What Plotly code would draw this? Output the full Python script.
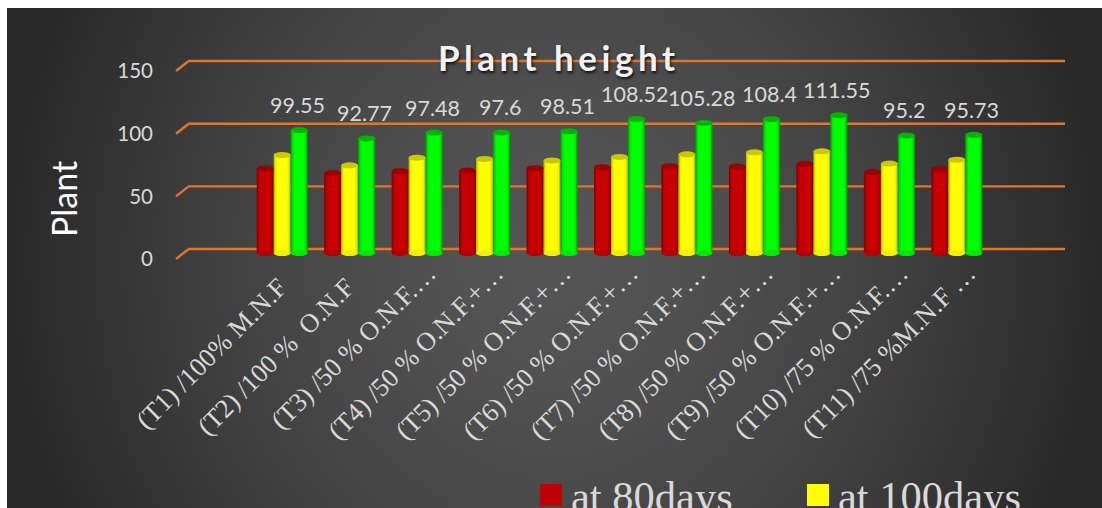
import zlib, struct, base64
import numpy as np
import plotly.graph_objects as go

NB = "\u00a0"
categories = ["(T1) /100% M.N.F" + NB * 3, "(T2) /100 %  O.N.F" + NB * 3, "(T3) /50 % O.N.F.…", "(T4) /50 % O.N.F.+…",
              "(T5) /50 % O.N.F.+…", "(T6) /50 % O.N.F.+…", "(T7) /50 % O.N.F.+…", "(T8) /50 % O.N.F.+…",
              "(T9) /50 % O.N.F.+…", "(T10) /75 % O.N.F.…", "(T11) /75 %M.N.F …"]
at_80 = [68.5, 64.7, 66.3, 66.8, 68.7, 69.5, 70.3, 70.0, 72.2, 65.5, 68.2]
at_100 = [79.4, 71.0, 77.2, 76.2, 75.0, 77.8, 79.9, 81.5, 82.3, 72.4, 75.6]
at_120 = [99.55, 92.77, 97.48, 97.6, 98.51, 108.52, 105.28, 108.4, 111.55, 95.2, 95.73]
y_ticks = [0, 50, 100, 150]

W, H = 1102, 508
PANEL = (7, 8, 1102, 508)
PLOT_L, PLOT_R = 181, 1058
Y0_PX, PX_PER_UNIT = 254, 1.253
BAR_Y0_PX, BAR_PX_PER_UNIT = 253, 1.235
Y_LO, Y_HI = -6, 165


def png_uri(w, h):
    xs = np.linspace(-1, 1, w)
    ys = np.linspace(-1, 1, h)
    xx, yy = np.meshgrid(xs, ys)
    r = np.sqrt(xx ** 2 + (yy * 0.42) ** 2)
    v = 0x55 - (0x55 - 0x29) * np.clip(r, 0, 1) ** 1.6
    g = v.astype(np.uint8)
    raw = b"".join(b"\x00" + g[i].tobytes() for i in range(h))

    def chunk(t, d):
        c = struct.pack(">I", len(d)) + t + d
        return c + struct.pack(">I", zlib.crc32(t + d) & 0xffffffff)

    data = b"\x89PNG\r\n\x1a\n" + chunk(b"IHDR", struct.pack(">IIBBBBB", w, h, 8, 0, 0, 0, 0)) \
        + chunk(b"IDAT", zlib.compress(raw)) + chunk(b"IEND", b"")
    return "data:image/png;base64," + base64.b64encode(data).decode()


def dom_x(a, b):
    return [a / W, b / W]


def dom_y(y0, ppu):
    top = y0 - Y_HI * ppu
    bottom = y0 - Y_LO * ppu
    return [1 - bottom / H, 1 - top / H]


series = [
    ("at 80days", at_80, -17 / 67.5, ["#8a0000", "#b40000", "#c80000"], "#9a0000"),
    ("at 100days", at_100, 0, ["#c0c000", "#f0f000", "#ffff00"], "#c8c800"),
    ("at 120days", at_120, 17 / 67.5, ["#00b000", "#00e800", "#00ff00"], "#00b400"),
]
xs = list(range(len(categories)))
px_x = (PLOT_R - PLOT_L) / 13
bw = 17 / px_x
fig = go.Figure()
shapes = []
annotations = []
ell = 3 / BAR_PX_PER_UNIT

for name, vals, off, cols, top in series:
    for frac, col in zip([1, 0.84, 0.62], cols):
        w = bw * frac
        fig.add_trace(go.Bar(x=xs, y=vals, width=w, offset=off - w / 2, marker=dict(color=col, line_width=0),
                             name=name, showlegend=False, hoverinfo="skip" if frac < 1 else None))
    for i, v in zip(xs, vals):
        shapes.append(dict(type="circle", xref="x", yref="y", x0=i + off - bw / 2, x1=i + off + bw / 2,
                           y0=-ell, y1=ell, fillcolor=cols[1], line_width=0, layer="above"))
        shapes.append(dict(type="circle", xref="x", yref="y", x0=i + off - bw / 2, x1=i + off + bw / 2,
                           y0=v - ell, y1=v + ell, fillcolor=top, line_width=0, layer="above"))

for i, v in zip(xs, at_120):
    annotations.append(dict(x=i + 17 / 67.5, y=v, xref="x", yref="y", text=str(v), showarrow=False, yshift=25, xshift=-2,
                            xanchor="center", yanchor="middle",
                            font=dict(family="Lato", size=21.5, color="#d9d9d9")))

# orange back-wall gridlines with the short floor stub on the left
for t in y_ticks:
    shapes.append(dict(type="line", xref="paper", yref="y3", x0=188 / W, x1=1065 / W, y0=t, y1=t,
                       line=dict(color="#e0752c", width=2.4), layer="below"))
    shapes.append(dict(type="line", xref="paper", yref="y2", x0=176 / W, x1=188 / W, y0=t, y1=t + 9.5 / PX_PER_UNIT,
                       line=dict(color="#e0752c", width=2.4), layer="below"))

legend_items = [("at 80days", 540, 569, "#c00000"), ("at 100days", 807, 836, "#ffff00")]
for label, lx, tx, col in legend_items:
    shapes.append(dict(type="rect", xref="paper", yref="paper", x0=lx / W, x1=(lx + 22) / W,
                       y0=1 - 506 / H, y1=1 - 484 / H, fillcolor=col, line_width=0))
    annotations.append(dict(x=tx / W, y=1 - 496 / H, xref="paper", yref="paper", xanchor="left", yanchor="middle",
                            text=label, showarrow=False, font=dict(family="Liberation Serif", size=42.5, color="#d9d9d9")))

annotations.append(dict(x=558.5 / W, y=1 - 57 / H, xref="paper", yref="paper", text="<b>Plant height</b>", showarrow=False,
                        xanchor="center", yanchor="middle",
                        font=dict(family="Lato", size=35, color="#f2f2f2", shadow="1px 2px 3px #111")))
annotations.append(dict(x=64 / W, y=1 - 199 / H, xref="paper", yref="paper", text="Plant", showarrow=False, textangle=-90,
                        xanchor="center", yanchor="middle",
                        font=dict(family="Lato", size=34, color="#ffffff")))

fig.update_layout(
    width=W, height=H, margin=dict(l=0, r=0, t=0, b=0, pad=0), autosize=False,
    paper_bgcolor="#ffffff", plot_bgcolor="rgba(0,0,0,0)", barmode="overlay", showlegend=False,
    images=[dict(source=png_uri(272, 125), xref="paper", yref="paper", x=PANEL[0] / W, y=1 - PANEL[1] / H,
                 sizex=(PANEL[2] - PANEL[0]) / W, sizey=(PANEL[3] - PANEL[1]) / H, sizing="stretch",
                 xanchor="left", yanchor="top", layer="below")],
    xaxis=dict(domain=dom_x(PLOT_L, PLOT_R), range=[-1.5, 11.5], tickmode="array", tickvals=xs, ticktext=categories,
               tickangle=-45, showgrid=False, zeroline=False, showline=False, ticks="", ticklen=0, ticklabelshift=11,
               ticklabelstandoff=-9,
               tickfont=dict(family="Liberation Serif", size=26.5, color="#d9d9d9"), anchor="y", automargin=False),
    yaxis=dict(domain=dom_y(BAR_Y0_PX, BAR_PX_PER_UNIT), range=[Y_LO, Y_HI], showticklabels=False, showgrid=False,
               zeroline=False, showline=False, automargin=False),
    yaxis2=dict(domain=dom_y(Y0_PX + 5, PX_PER_UNIT), range=[Y_LO, Y_HI], anchor="free", position=153 / W,
                tickmode="array", tickvals=y_ticks, tickfont=dict(family="Lato", size=20.5, color="#d9d9d9"), showgrid=False,
                zeroline=False, showline=False, side="left", automargin=False),
    yaxis3=dict(domain=dom_y(Y0_PX - 5, PX_PER_UNIT), range=[Y_LO, Y_HI], visible=False, anchor="free", position=0),
    shapes=shapes, annotations=annotations,
)
# invisible traces to activate the offset axes
fig.add_trace(go.Scatter(x=[None], y=[None], yaxis="y2", showlegend=False))
fig.add_trace(go.Scatter(x=[None], y=[None], yaxis="y3", showlegend=False))

post = """
document.body.style.margin='0';
document.querySelectorAll('.annotation-text').forEach(function(t){
  if(t.textContent==='Plant height'){t.style.letterSpacing='4.5px';}
});
"""
fig.write_html("out.html", config={"displayModeBar": False}, post_script=post)
